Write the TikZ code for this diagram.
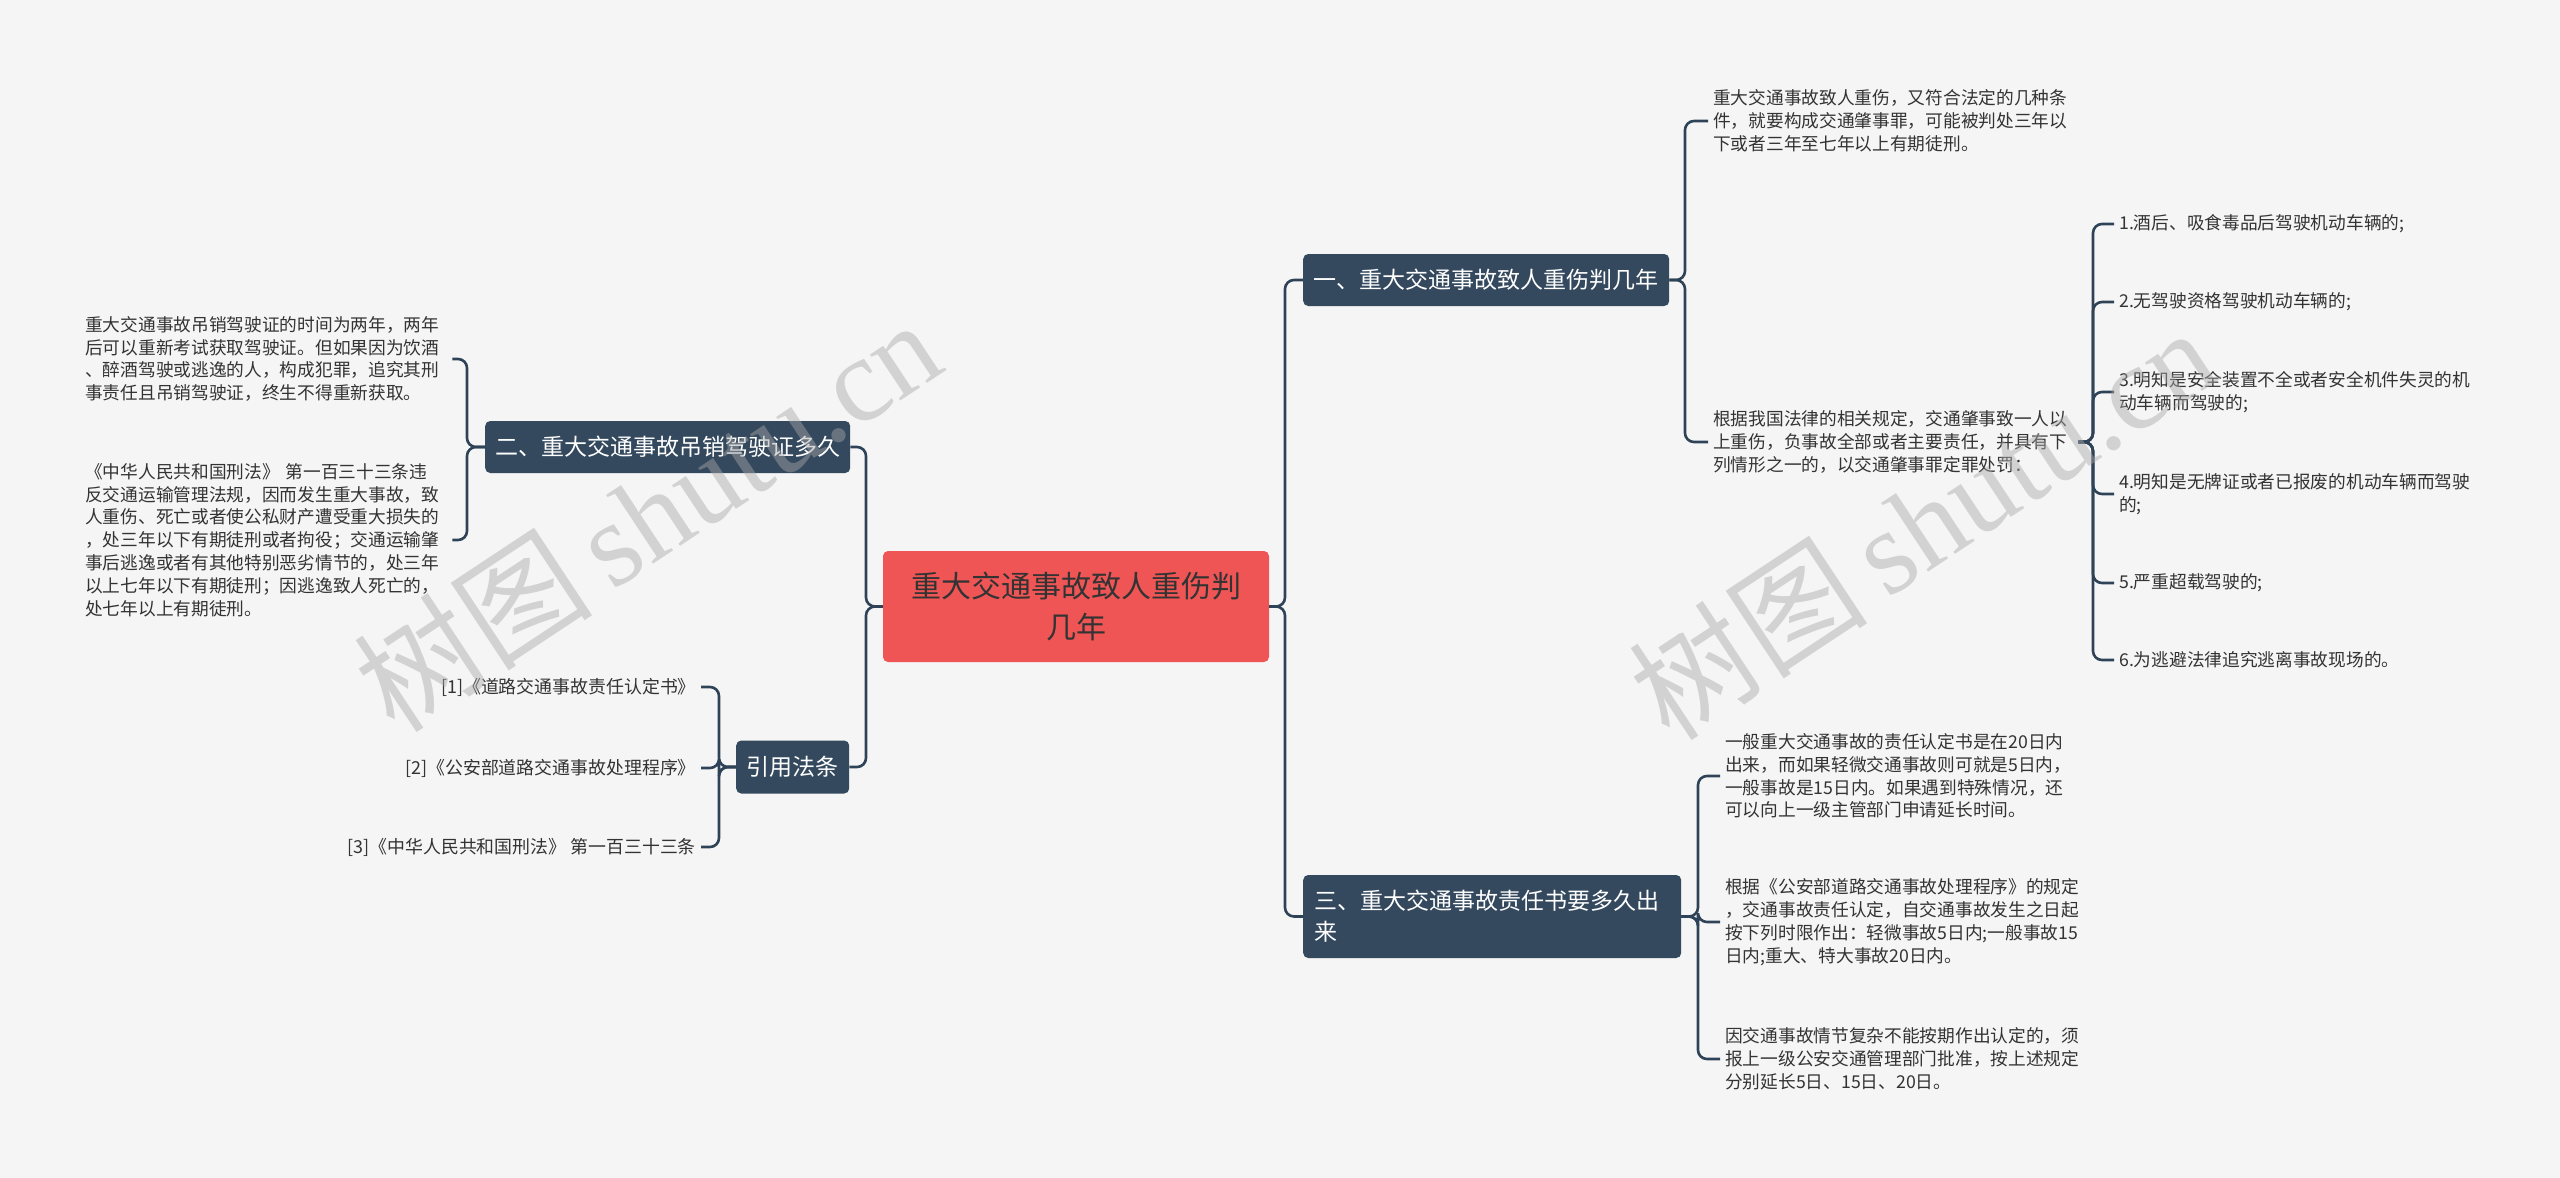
\documentclass[tikz,border=0pt]{standalone}
\usepackage{fontspec}
\setmainfont{Noto Sans CJK SC}
\newfontfamily\wmfont{Liberation Serif}
\definecolor{bgc}{HTML}{F5F5F5}
\definecolor{nodec}{HTML}{34495E}
\definecolor{linec}{HTML}{2F4358}
\definecolor{redc}{HTML}{EF5555}
\definecolor{txtc}{HTML}{333333}
\definecolor{wmc}{HTML}{A8A8A8}
\tikzset{
  conn/.style={draw=linec, line width=2.6pt, rounded corners=9pt},
  topic/.style={fill=nodec, rounded corners=5pt, text=white, font=\fontsize{23}{31}\selectfont, inner xsep=10pt, inner ysep=0pt, align=left},
  txt/.style={inner xsep=5pt, inner ysep=0pt, font=\fontsize{17.7}{22.8}\selectfont, text=txtc, align=left},
  reftxt/.style={inner xsep=5pt, inner ysep=0pt, font=\fontsize{17.9}{22}\selectfont, text=txtc, align=right},
  wm/.style={text=wmc, opacity=0.45, rotate=33.5}
}
\begin{document}
\begin{tikzpicture}[x=1pt,y=-1pt]
\fill[bgc] (0,0) rectangle (2560,1178);
\useasboundingbox (0,0) rectangle (2560,1178);

% central
\node[fill=redc, rounded corners=5pt, minimum width=386pt, minimum height=111pt, text=txtc, font=\fontsize{30}{41}\selectfont, align=center, inner sep=0pt] (c) at (1076,606.5) {重大交通事故致人重伤判\\几年};

% main topics
\node[topic, minimum width=366pt, minimum height=52pt, anchor=west] (b1) at (1303,280) {一、重大交通事故致人重伤判几年};
\node[topic, minimum width=378pt, minimum height=83pt, text width=356pt, anchor=west] (b3) at (1303,916.5) {三、重大交通事故责任书要多久出\\来};
\node[topic, minimum width=364pt, minimum height=52pt, anchor=west] (b2) at (485,447) {二、重大交通事故吊销驾驶证多久};
\node[topic, minimum width=113pt, minimum height=53pt, anchor=west] (b4) at (736,767) {引用法条};

% junction coordinates
\coordinate (jr) at (1285,606.5);
\coordinate (jl) at (866,606.5);
\coordinate (j1) at (1685,280);
\coordinate (j3) at (1698,916.5);
\coordinate (j2) at (467,447);
\coordinate (j4) at (719,767);
\coordinate (jl1) at (2093,442);

% left texts
\node[txt, text width=362pt, anchor=west] (l1) at (80,359) {重大交通事故吊销驾驶证的时间为两年，两年\\后可以重新考试获取驾驶证。但如果因为饮酒\\、醉酒驾驶或逃逸的人，构成犯罪，追究其刑\\事责任且吊销驾驶证，终生不得重新获取。};
\node[txt, text width=362pt, anchor=west] (l2) at (80,540) {《中华人民共和国刑法》 第一百三十三条违\\反交通运输管理法规，因而发生重大事故，致\\人重伤、死亡或者使公私财产遭受重大损失的\\，处三年以下有期徒刑或者拘役；交通运输肇\\事后逃逸或者有其他特别恶劣情节的，处三年\\以上七年以下有期徒刑；因逃逸致人死亡的，\\处七年以上有期徒刑。};

% references
\node[reftxt, anchor=east] (r1) at (701,687) {[1]《道路交通事故责任认定书》};
\node[reftxt, anchor=east] (r2) at (701,768) {[2]《公安部道路交通事故处理程序》};
\node[reftxt, anchor=east] (r3) at (701,847) {[3]《中华人民共和国刑法》 第一百三十三条};

% right texts branch 1
\node[txt, text width=360pt, anchor=west] (a1) at (1708,121) {重大交通事故致人重伤，又符合法定的几种条\\件，就要构成交通肇事罪，可能被判处三年以\\下或者三年至七年以上有期徒刑。};
\node[txt, text width=360pt, anchor=west] (a2) at (1708,442) {根据我国法律的相关规定，交通肇事致一人以\\上重伤，负事故全部或者主要责任，并具有下\\列情形之一的，以交通肇事罪定罪处罚：};

% list items
\node[txt, anchor=west] (i1) at (2114,224) {1.酒后、吸食毒品后驾驶机动车辆的;};
\node[txt, anchor=west] (i2) at (2114,302) {2.无驾驶资格驾驶机动车辆的;};
\node[txt, anchor=west] (i3) at (2114,392) {3.明知是安全装置不全或者安全机件失灵的机\\动车辆而驾驶的;};
\node[txt, anchor=west] (i4) at (2114,494) {4.明知是无牌证或者已报废的机动车辆而驾驶\\的;};
\node[txt, anchor=west] (i5) at (2114,583) {5.严重超载驾驶的;};
\node[txt, anchor=west] (i6) at (2114,660) {6.为逃避法律追究逃离事故现场的。};

% branch 3 texts
\node[txt, text width=360pt, anchor=west] (d1) at (1720,776) {一般重大交通事故的责任认定书是在20日内\\出来，而如果轻微交通事故则可就是5日内，\\一般事故是15日内。如果遇到特殊情况，还\\可以向上一级主管部门申请延长时间。};
\node[txt, text width=360pt, anchor=west] (d2) at (1720,922) {根据《公安部道路交通事故处理程序》的规定\\，交通事故责任认定，自交通事故发生之日起\\按下列时限作出：轻微事故5日内;一般事故15\\日内;重大、特大事故20日内。};
\node[txt, text width=360pt, anchor=west] (d3) at (1720,1059) {因交通事故情节复杂不能按期作出认定的，须\\报上一级公安交通管理部门批准，按上述规定\\分别延长5日、15日、20日。};

% connectors
\draw[conn] (c.east) -- (jr) |- (b1.west);
\draw[conn] (c.east) -- (jr) |- (b3.west);
\draw[conn] (c.west) -- (jl) |- (b2.east);
\draw[conn] (c.west) -- (jl) |- (b4.east);

\draw[conn] (b1.east) -- (j1) |- (a1.west);
\draw[conn] (b1.east) -- (j1) |- (a2.west);

\foreach \n in {i1,i2,i3,i4,i5,i6}
  \draw[conn] (a2.east) -- (jl1) |- (\n.west);

\foreach \n in {d1,d2,d3}
  \draw[conn] (b3.east) -- (j3) |- (\n.west);

\draw[conn] (b2.west) -- (j2) |- (l1.east);
\draw[conn] (b2.west) -- (j2) |- (l2.east);

\foreach \n in {r1,r2,r3}
  \draw[conn] (b4.west) -- (j4) |- (\n.east);

% watermarks
\node[wm] (w1) at (647,514) {\fontsize{120}{120}\selectfont 树图\,\wmfont shutu.cn};
\node[wm] (w2) at (1922,522) {\fontsize{120}{120}\selectfont 树图\,\wmfont shutu.cn};
\end{tikzpicture}
\end{document}
